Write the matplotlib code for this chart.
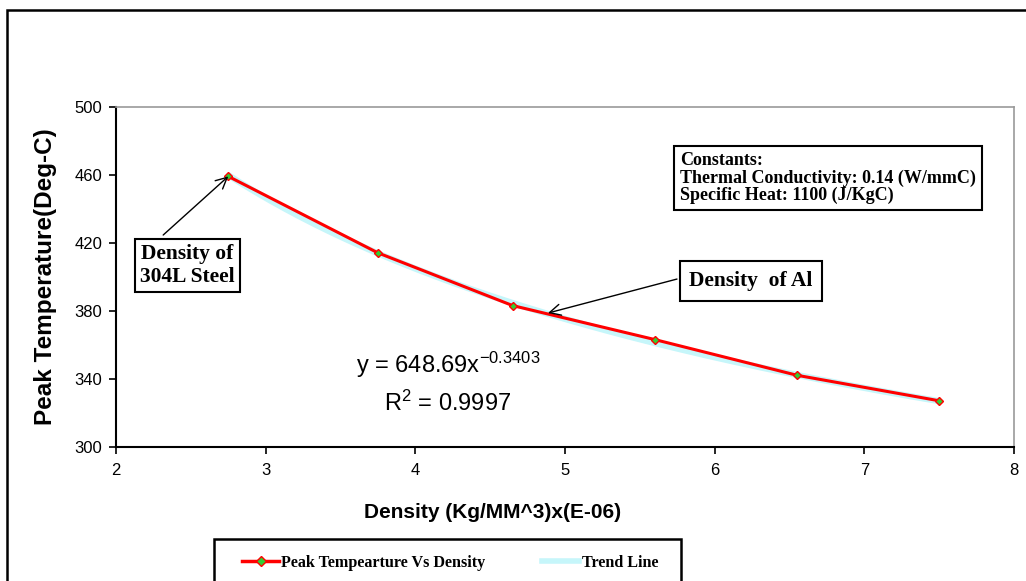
import numpy as np
import matplotlib
matplotlib.use("Agg")
import matplotlib.pyplot as plt
from matplotlib.lines import Line2D
from matplotlib.patches import Rectangle

plt.rcParams['font.family'] = ['Liberation Sans', 'DejaVu Sans']
plt.rcParams['mathtext.fontset'] = 'custom'
plt.rcParams['mathtext.rm'] = 'Liberation Sans'
plt.rcParams['mathtext.default'] = 'regular'

# data
density = [2.75, 3.75, 4.65, 5.6, 6.55, 7.5]
peak_temp = [459, 414, 383, 363, 342, 327]

# power trend line as printed on the chart
coef_a = 648.69
coef_b = -0.3403
r_squared = 0.9997

x_ticks = [2, 3, 4, 5, 6, 7, 8]
y_ticks = [300, 340, 380, 420, 460, 500]

serif = ['Liberation Serif', 'DejaVu Serif']

fig = plt.figure(figsize=(10.26, 5.81), dpi=100)
ax = fig.add_axes([0.1131, 0.2312, 0.8752, 0.5852])

xt = np.linspace(min(density), max(density), 200)
ax.plot(xt, coef_a * xt ** coef_b, color='#c6f6fa', lw=4.5, zorder=2, solid_capstyle='butt')
ax.plot(density, peak_temp, color='red', lw=2.2, zorder=3,
        marker='D', markersize=4, markerfacecolor='#33cc33', markeredgecolor='red', markeredgewidth=1)

ax.set_xlim(2, 8)
ax.set_ylim(300, 500)
ax.set_xticks(x_ticks)
ax.set_yticks(y_ticks)
ax.tick_params(axis='both', direction='out', length=5, width=1.2, labelsize=12, pad=5)
ax.tick_params(axis='x', pad=7)

for s in ['top', 'right']:
    ax.spines[s].set_color('#999999')
    ax.spines[s].set_linewidth(1.2)
for s in ['left', 'bottom']:
    ax.spines[s].set_color('black')
    ax.spines[s].set_linewidth(1.5)

ax.set_xlabel('Density (Kg/MM^3)x(E-06)', fontsize=15, fontweight='bold')
ax.xaxis.set_label_coords(0.419, -0.166)
ax.set_ylabel('Peak Temperature(Deg-C)', fontsize=17.5, fontweight='bold')
ax.yaxis.set_label_coords(-0.066, 0.5)

# fit equation
ax.text(4.218, 348, 'y = %.2fx$^{%.4f}$' % (coef_a, coef_b), fontsize=17, ha='center', va='center')
ax.text(4.218, 325.7, 'R$^{2}$ = %.4f' % r_squared, fontsize=17, ha='center', va='center')

arrow = dict(arrowstyle='->', color='black', lw=1, shrinkA=0, shrinkB=0, mutation_scale=20)

# 304L steel call-out
ax.text(2.478, 406.6, 'Density of\n304L Steel', fontsize=15.5, fontweight='bold', family=serif,
        ha='center', va='center', linespacing=1.15,
        bbox=dict(boxstyle='square,pad=0.25', facecolor='white', edgecolor='black', linewidth=1.5))
ax.annotate('', xy=(density[0], peak_temp[0]), xytext=(2.315, 424.5), arrowprops=arrow)

# aluminium call-out
ax.text(6.243, 397.5, 'Density  of Al', fontsize=15.5, fontweight='bold', family=serif,
        ha='center', va='center',
        bbox=dict(boxstyle='square,pad=0.45', facecolor='white', edgecolor='black', linewidth=1.5))
ax.annotate('', xy=(4.886, 378.6), xytext=(5.748, 398.6), arrowprops=arrow)

ax.text(0.628, 0.79, 'Constants:\nThermal Conductivity: 0.14 (W/mmC)\nSpecific Heat: 1100 (J/KgC)',
        transform=ax.transAxes, fontsize=13, fontweight='bold', family=serif,
        ha='left', va='center', linespacing=1.02,
        bbox=dict(boxstyle='square,pad=0.35', facecolor='white', edgecolor='black', linewidth=1.5))

# outer chart border and legend box
fig.patches.append(Rectangle((7 / 1026, -0.1), 1.2, 1 - 10 / 581 + 0.1, transform=fig.transFigure,
                             fill=False, edgecolor='black', linewidth=1.8))
fig.patches.append(Rectangle((214 / 1026, -0.05), 467 / 1026, (581 - 539) / 581 + 0.05,
                             transform=fig.transFigure, fill=False, edgecolor='black', linewidth=1.8))

handles = [Line2D([], [], color='red', lw=2.5, marker='D', markersize=5,
                  markerfacecolor='#33cc33', markeredgecolor='red'),
           Line2D([], [], color='#c6f6fa', lw=4)]
fig.legend(handles, ['Peak Tempearture Vs Density', 'Trend Line'], loc='center left',
           bbox_to_anchor=(242 / 1026, 1 - 563 / 581), ncol=2, frameon=False,
           borderpad=0, borderaxespad=0, handlelength=2.3, handletextpad=0.15, columnspacing=3.5,
           prop=dict(family=serif, weight='bold', size=11.6))

fig.savefig('out.png', dpi=100)
